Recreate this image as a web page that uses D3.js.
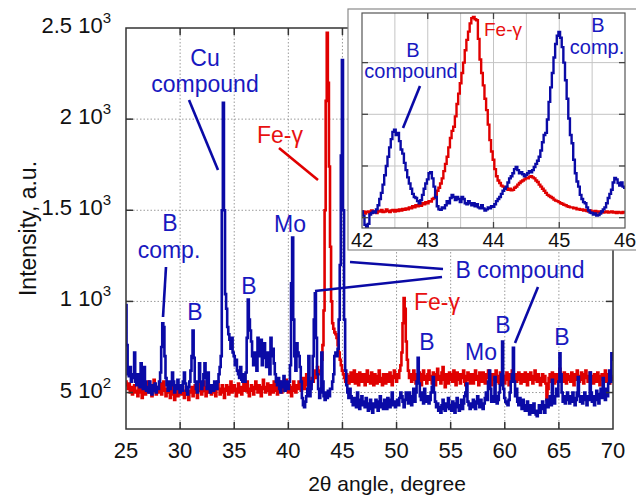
<!DOCTYPE html>
<html>
<head>
<meta charset="utf-8">
<script src="https://cdn.jsdelivr.net/npm/d3@7"></script>
<style>
  body { margin: 0; background: #fff; }
  svg { display: block; }
  text { font-family: Arial, "Liberation Sans", sans-serif; }
</style>
</head>
<body>
<svg id="chart" width="636" height="503"></svg>
<script>
// XRD pattern: two samples (blue / red), 2θ from 25° to 70° sampled every 0.1°
const angleStart = 25, angleStep = 0.1;

const blueCounts = [
  980, 760, 600, 590, 640, 560, 600, 580, 720, 560,
  540, 600, 560, 530, 660, 600, 520, 640, 560, 510,
  530, 500, 560, 520, 490, 540, 510, 550, 500, 530,
  520, 560, 610, 750, 880, 860, 700, 580, 540, 510,
  560, 520, 540, 610, 560, 500, 540, 520, 570, 520,
  500, 540, 510, 560, 610, 550, 510, 490, 530, 560,
  620, 700, 840, 690, 560, 520, 500, 560, 660, 560,
  520, 540, 600, 660, 580, 520, 610, 540, 500, 520,
  540, 510, 560, 540, 520, 560, 600, 640, 700, 1500,
  2090, 1500, 1040, 960, 860, 820, 790, 740, 800, 720,
  700, 650, 680, 620, 600, 580, 640, 570, 560, 600,
  560, 610, 800, 1010, 900, 840, 780, 700, 650, 720,
  680, 620, 800, 700, 760, 790, 650, 700, 770, 690,
  640, 720, 660, 600, 800, 700, 740, 660, 600, 560,
  540, 580, 520, 500, 560, 530, 590, 510, 540, 560,
  520, 560, 650, 1100, 1350, 900, 700, 620, 770, 720,
  700, 640, 560, 470, 430, 420, 450, 480, 520, 700,
  480, 520, 560, 700, 900, 1045, 800, 600, 520, 470,
  500, 720, 560, 480, 460, 500, 470, 510, 480, 520,
  520, 560, 600, 700, 720, 700, 740, 900, 1200, 1800,
  2324, 1500, 900, 620, 540, 500, 470, 520, 480, 450,
  430, 470, 450, 420, 500, 440, 410, 460, 480, 430,
  450, 420, 470, 440, 400, 430, 460, 410, 390, 440,
  420, 460, 430, 400, 450, 480, 420, 440, 410, 460,
  430, 410, 470, 440, 420, 460, 500, 430, 450, 420,
  440, 460, 430, 470, 500, 480, 450, 420, 460, 500,
  470, 440, 500, 460, 430, 480, 520, 450, 500, 560,
  690, 550, 480, 460, 500, 440, 520, 470, 450, 480,
  440, 460, 500, 530, 585, 500, 450, 420, 440, 400,
  420, 390, 430, 460, 410, 400, 440, 420, 470, 410,
  430, 400, 450, 410, 390, 440, 470, 420, 400, 430,
  460, 410, 440, 480, 500, 550, 450, 430, 410, 440,
  420, 460, 430, 410, 450, 480, 440, 420, 460, 430,
  410, 440, 470, 500, 460, 560, 620, 520, 450, 480,
  450, 585, 480, 440, 460, 500, 540, 600, 780, 520,
  470, 450, 440, 430, 460, 500, 560, 600, 745, 560,
  480, 520, 450, 430, 470, 440, 410, 460, 430, 400,
  420, 450, 400, 380, 430, 410, 390, 440, 400, 380,
  370, 400, 430, 390, 410, 450, 420, 390, 430, 460,
  420, 450, 480, 430, 570, 470, 440, 480, 520, 480,
  560, 715, 600, 500, 450, 480, 440, 460, 500, 470,
  440, 480, 450, 500, 470, 430, 460, 500, 585, 480,
  450, 480, 440, 470, 500, 460, 430, 480, 460, 610,
  500, 450, 480, 430, 470, 510, 460, 440, 490, 520,
  470, 580, 500, 460, 520, 480, 550, 620, 560, 715,
  680
];

const redCounts = [
  560, 540, 520, 550, 500, 530, 490, 520, 540, 500,
  510, 480, 530, 560, 500, 470, 520, 540, 490, 510,
  530, 560, 500, 520, 480, 540, 570, 510, 490, 530,
  500, 520, 550, 490, 530, 560, 510, 480, 520, 500,
  540, 470, 510, 530, 490, 460, 500, 530, 480, 510,
  520, 490, 540, 510, 470, 500, 530, 490, 460, 510,
  500, 530, 480, 510, 540, 500, 470, 520, 550, 510,
  490, 520, 560, 510, 480, 530, 500, 540, 520, 490,
  510, 540, 500, 480, 530, 560, 520, 490, 510, 540,
  500, 470, 520, 540, 510, 490, 530, 560, 500, 520,
  540, 510, 480, 520, 550, 500, 530, 490, 520, 560,
  510, 530, 560, 500, 480, 520, 540, 510, 490, 530,
  560, 520, 500, 540, 510, 480, 530, 570, 520, 500,
  530, 550, 510, 490, 540, 520, 500, 560, 530, 510,
  490, 530, 560, 520, 500, 540, 510, 530, 570, 520,
  500, 540, 520, 480, 530, 560, 510, 500, 540, 520,
  560, 530, 510, 550, 580, 520, 540, 600, 560, 530,
  560, 540, 580, 560, 600, 620, 580, 640, 600, 620,
  620, 680, 760, 950, 1500, 2100, 2473, 2200, 1740, 1300,
  1000, 880, 850, 830, 820, 800, 760, 720, 680, 650,
  620, 600, 580, 560, 600, 570, 550, 590, 610, 560,
  580, 620, 550, 600, 570, 540, 610, 580, 560, 600,
  570, 540, 600, 620, 560, 590, 550, 610, 580, 540,
  600, 570, 550, 590, 620, 560, 580, 540, 600, 570,
  550, 600, 580, 560, 610, 570, 540, 590, 620, 580,
  560, 600, 580, 620, 650, 720, 880, 1018, 960, 780,
  680, 620, 580, 600, 560, 590, 620, 570, 550, 600,
  580, 610, 560, 540, 600, 620, 570, 590, 550, 600,
  620, 570, 590, 550, 610, 580, 540, 600, 630, 570,
  590, 550, 610, 640, 570, 530, 600, 580, 550, 610,
  570, 600, 560, 620, 590, 540, 610, 570, 600, 550,
  600, 580, 620, 560, 540, 590, 610, 570, 550, 600,
  580, 550, 600, 620, 570, 590, 540, 610, 580, 560,
  610, 570, 550, 600, 580, 620, 560, 590, 540, 600,
  570, 600, 620, 560, 590, 550, 610, 580, 600, 570,
  550, 590, 610, 570, 540, 600, 580, 620, 570, 590,
  600, 560, 580, 610, 570, 550, 600, 590, 560, 610,
  580, 540, 600, 570, 610, 590, 550, 580, 620, 570,
  560, 600, 580, 540, 570, 600, 560, 590, 550, 460,
  520, 580, 600, 560, 610, 570, 550, 600, 580, 560,
  600, 630, 570, 590, 560, 610, 580, 550, 600, 570,
  590, 560, 610, 580, 540, 600, 570, 620, 590, 560,
  580, 610, 570, 550, 600, 620, 580, 560, 590, 610,
  570, 590, 550, 600, 580, 560, 610, 570, 540, 590,
  600, 570, 590, 620, 560, 580, 600, 550, 590, 580,
  570
];

// Inset: 42°–46° at 0.025° steps
const insetStart = 42, insetStep = 0.025;

const insetBlue = [
  560, 520, 430, 410, 440, 530, 545, 560, 550, 580,
  620, 680, 740, 820, 910, 1000, 1090, 1180, 1260, 1330,
  1350, 1300, 1320, 1240, 1160, 1120, 1030, 960, 890, 830,
  780, 730, 700, 690, 660, 640, 670, 720, 780, 830,
  870, 930, 940, 880, 800, 700, 610, 580, 575, 600,
  590, 620, 660, 640, 690, 720, 700, 670, 700, 680,
  650, 700, 680, 640, 630, 660, 640, 620, 640, 610,
  630, 600, 590, 620, 590, 570, 580, 600, 590, 610,
  605, 630, 660, 680, 700, 730, 760, 780, 800, 840,
  880, 900, 930, 970, 990, 960, 930, 940, 920, 900,
  915, 930, 950, 940, 960, 990, 1020, 1050, 1090, 1150,
  1230, 1300, 1320, 1450, 1620, 1760, 1900, 2050, 2180, 2260,
  2296, 2240, 2150, 2000, 1830, 1650, 1460, 1300, 1220, 1060,
  930, 850, 800, 720, 680, 650, 640, 600, 570, 550,
  545, 530, 540, 520, 525, 540, 560, 580, 600, 640,
  690, 730, 770, 840, 885, 870, 835, 810, 840, 800,
  790
];

const insetRed = [
  550, 560, 540, 555, 560, 545, 570, 555, 560, 545,
  565, 560, 575, 555, 560, 580, 565, 555, 570, 575,
  560, 575, 565, 580, 570, 585, 575, 590, 580, 600,
  590, 610, 600, 620, 610, 625, 615, 640, 630, 650,
  640, 660, 655, 680, 690, 720, 760, 790, 830, 880,
  950, 1020, 1090, 1180, 1270, 1340, 1380, 1480, 1600, 1700,
  1800, 1900, 2000, 2120, 2220, 2300, 2380, 2430, 2441, 2420,
  2410, 2230, 2030, 1900, 1780, 1650, 1540, 1400, 1250, 1140,
  1060, 970, 900, 860, 835, 810, 800, 790, 785, 770,
  780, 765, 770, 790, 800, 820, 835, 850, 860, 870,
  885, 880, 895, 900, 890, 880, 860, 845, 820, 800,
  780, 760, 740, 720, 710, 700, 690, 675, 665, 660,
  650, 640, 635, 625, 620, 610, 605, 600, 600, 590,
  595, 580, 585, 575, 580, 570, 575, 565, 560, 570,
  560, 555, 565, 550, 560, 555, 560, 550, 555, 560,
  550, 555, 560, 550, 555, 545, 555, 550, 545, 555,
  550
];

const xTicks = [25, 30, 35, 40, 45, 50, 55, 60, 65, 70];
const yTicks = [500, 1000, 1500, 2000, 2500];
const yTickMantissa = ["5", "1", "1.5", "2", "2.5"];
const yTickExponent = ["2", "3", "3", "3", "3"];
const insetXTicks = [42, 43, 44, 45, 46];
const insetGridX = [42.5, 43, 43.5, 44, 44.5, 45, 45.5];
const insetGridY = [500, 1000, 1500, 2000];

const BLUE = "#0a0aa6", RED = "#e00000";
const BLUE_TXT = "#1818c0", RED_TXT = "#e81010";

const svg = d3.select("#chart");

// ---------- main panel ----------
const M = { left: 126, right: 613, top: 28, bottom: 429 };
const x = d3.scaleLinear().domain([25, 70]).range([M.left, M.right]);
const y = d3.scaleLinear().domain([300, 2500]).range([M.bottom, M.top]);

svg.append("clipPath").attr("id", "mainClip")
  .append("rect").attr("x", M.left).attr("y", M.top)
  .attr("width", M.right - M.left).attr("height", M.bottom - M.top);

const grid = svg.append("g").attr("stroke", "#9a9a9a").attr("stroke-width", 1)
  .attr("stroke-dasharray", "1.5,2");
xTicks.slice(1, -1).forEach(t => grid.append("line")
  .attr("x1", x(t)).attr("x2", x(t)).attr("y1", M.top).attr("y2", M.bottom));
yTicks.slice(0, -1).forEach(t => grid.append("line")
  .attr("x1", M.left).attr("x2", M.right).attr("y1", y(t)).attr("y2", y(t)));

const mainLine = d3.line()
  .x((d, i) => x(angleStart + i * angleStep))
  .y(d => y(d))
  .curve(d3.curveStep);

const plot = svg.append("g").attr("clip-path", "url(#mainClip)");
plot.append("path").datum(redCounts).attr("d", mainLine)
  .attr("fill", "none").attr("stroke", RED).attr("stroke-width", 2.6);
plot.append("path").datum(blueCounts).attr("d", mainLine)
  .attr("fill", "none").attr("stroke", BLUE).attr("stroke-width", 2.6);

// frame with inward ticks
svg.append("rect").attr("x", M.left).attr("y", M.top)
  .attr("width", M.right - M.left).attr("height", M.bottom - M.top)
  .attr("fill", "none").attr("stroke", "#333").attr("stroke-width", 1.5);

const tickG = svg.append("g").attr("stroke", "#333").attr("stroke-width", 1.5);
xTicks.slice(1, -1).forEach(t => {
  tickG.append("line").attr("x1", x(t)).attr("x2", x(t)).attr("y1", M.bottom).attr("y2", M.bottom - 7);
  tickG.append("line").attr("x1", x(t)).attr("x2", x(t)).attr("y1", M.top).attr("y2", M.top + 7);
});
yTicks.slice(0, -1).forEach(t => {
  tickG.append("line").attr("x1", M.left).attr("x2", M.left + 7).attr("y1", y(t)).attr("y2", y(t));
  tickG.append("line").attr("x1", M.right).attr("x2", M.right - 7).attr("y1", y(t)).attr("y2", y(t));
});

// axis labels
svg.append("g").selectAll("text").data(xTicks).join("text")
  .attr("x", d => x(d)).attr("y", 458)
  .attr("text-anchor", "middle").attr("font-size", 22).attr("fill", "#111")
  .text(d => d);

const yl = svg.append("g").selectAll("text").data(yTicks).join("text")
  .attr("x", 111).attr("y", d => y(d) + 5)
  .attr("text-anchor", "end").attr("font-size", 22).attr("fill", "#111");
yl.append("tspan").text((d, i) => yTickMantissa[i] + " 10");
yl.append("tspan").attr("font-size", 15).attr("dy", -10)
  .text((d, i) => yTickExponent[i]);

svg.append("text").attr("x", 387).attr("y", 491)
  .attr("text-anchor", "middle").attr("font-size", 21).attr("fill", "#111")
  .text("2\u03b8 angle, degree");

svg.append("text")
  .attr("transform", `translate(36,${(M.top + M.bottom) / 2}) rotate(-90)`)
  .attr("text-anchor", "middle").attr("font-size", 23).attr("fill", "#111")
  .text("Intensity, a.u.");

// annotations in the main panel
function label(txt, cx, baseline, color, size) {
  svg.append("text").attr("x", cx).attr("y", baseline)
    .attr("text-anchor", "middle").attr("font-size", size).attr("fill", color)
    .text(txt);
}
function pointer(pts, color) {
  svg.append("path").attr("d", d3.line()(pts))
    .attr("fill", "none").attr("stroke", color).attr("stroke-width", 2.6);
}

label("Cu", 205, 66, BLUE_TXT, 23);
label("compound", 205, 92, BLUE_TXT, 23);
pointer([[189, 100], [218, 170]], BLUE);

label("Fe-\u03b3", 280, 143, RED_TXT, 23);
pointer([[279, 148], [318, 180]], RED);

label("B", 170, 231, BLUE_TXT, 23);
label("comp.", 169, 258, BLUE_TXT, 23);
pointer([[166, 267], [163, 317]], BLUE);

label("B", 195, 320, BLUE_TXT, 23);
label("B", 249, 294, BLUE_TXT, 23);
label("Mo", 290, 232, BLUE_TXT, 23);

label("B compound", 520, 278, BLUE_TXT, 23);
pointer([[350, 262], [443, 269]], BLUE);
pointer([[315, 291], [442, 277]], BLUE);
pointer([[538, 287], [515, 343]], BLUE);

label("Fe-\u03b3", 437, 310, RED_TXT, 23);
label("B", 427, 350, BLUE_TXT, 23);
label("Mo", 481, 360, BLUE_TXT, 23);
label("B", 503, 333, BLUE_TXT, 23);
label("B", 562, 345, BLUE_TXT, 23);

// ---------- inset ----------
svg.append("rect").attr("x", 348).attr("y", 9).attr("width", 300).attr("height", 241)
  .attr("fill", "#fff").attr("stroke", "#8a8a8a").attr("stroke-width", 1.2);

const I = { left: 362, right: 625, top: 13, bottom: 228 };
const xi = d3.scaleLinear().domain([42, 46]).range([I.left, I.right]);
const yi = d3.scaleLinear().domain([400, 2480]).range([I.bottom, I.top]);

svg.append("clipPath").attr("id", "insetClip")
  .append("rect").attr("x", I.left).attr("y", I.top)
  .attr("width", I.right - I.left).attr("height", I.bottom - I.top);

const ig = svg.append("g").attr("stroke", "#c4c4c4").attr("stroke-width", 1);
insetGridX.forEach(t => ig.append("line")
  .attr("x1", xi(t)).attr("x2", xi(t)).attr("y1", I.top).attr("y2", I.bottom));
insetGridY.forEach(t => ig.append("line")
  .attr("x1", I.left).attr("x2", I.right).attr("y1", yi(t)).attr("y2", yi(t)));

const insetLine = d3.line()
  .x((d, i) => xi(insetStart + i * insetStep))
  .y(d => yi(d))
  .curve(d3.curveStep);

const ip = svg.append("g").attr("clip-path", "url(#insetClip)");
ip.append("path").datum(insetRed).attr("d", insetLine)
  .attr("fill", "none").attr("stroke", RED).attr("stroke-width", 2.4);
ip.append("path").datum(insetBlue).attr("d", insetLine)
  .attr("fill", "none").attr("stroke", BLUE).attr("stroke-width", 2.4);

svg.append("rect").attr("x", I.left).attr("y", I.top)
  .attr("width", I.right - I.left).attr("height", I.bottom - I.top)
  .attr("fill", "none").attr("stroke", "#555").attr("stroke-width", 1.2);

const itg = svg.append("g").attr("stroke", "#444").attr("stroke-width", 1.3);
insetXTicks.slice(1, -1).forEach(t => {
  itg.append("line").attr("x1", xi(t)).attr("x2", xi(t)).attr("y1", I.bottom).attr("y2", I.bottom - 6);
  itg.append("line").attr("x1", xi(t)).attr("x2", xi(t)).attr("y1", I.top).attr("y2", I.top + 6);
});
insetGridY.forEach(t => {
  itg.append("line").attr("x1", I.left).attr("x2", I.left + 6).attr("y1", yi(t)).attr("y2", yi(t));
  itg.append("line").attr("x1", I.right).attr("x2", I.right - 6).attr("y1", yi(t)).attr("y2", yi(t));
});

svg.append("g").selectAll("text").data(insetXTicks).join("text")
  .attr("x", d => xi(d)).attr("y", 247)
  .attr("text-anchor", "middle").attr("font-size", 20).attr("fill", "#111")
  .text(d => d);

label("B", 413, 57, BLUE_TXT, 20);
label("compound", 411, 78, BLUE_TXT, 20);
pointer([[420, 86], [403, 128]], BLUE);
label("Fe-\u03b3", 503, 36, RED_TXT, 19);
label("B", 598, 32, BLUE_TXT, 20);
label("comp.", 597, 54, BLUE_TXT, 20);
</script>
</body>
</html>
